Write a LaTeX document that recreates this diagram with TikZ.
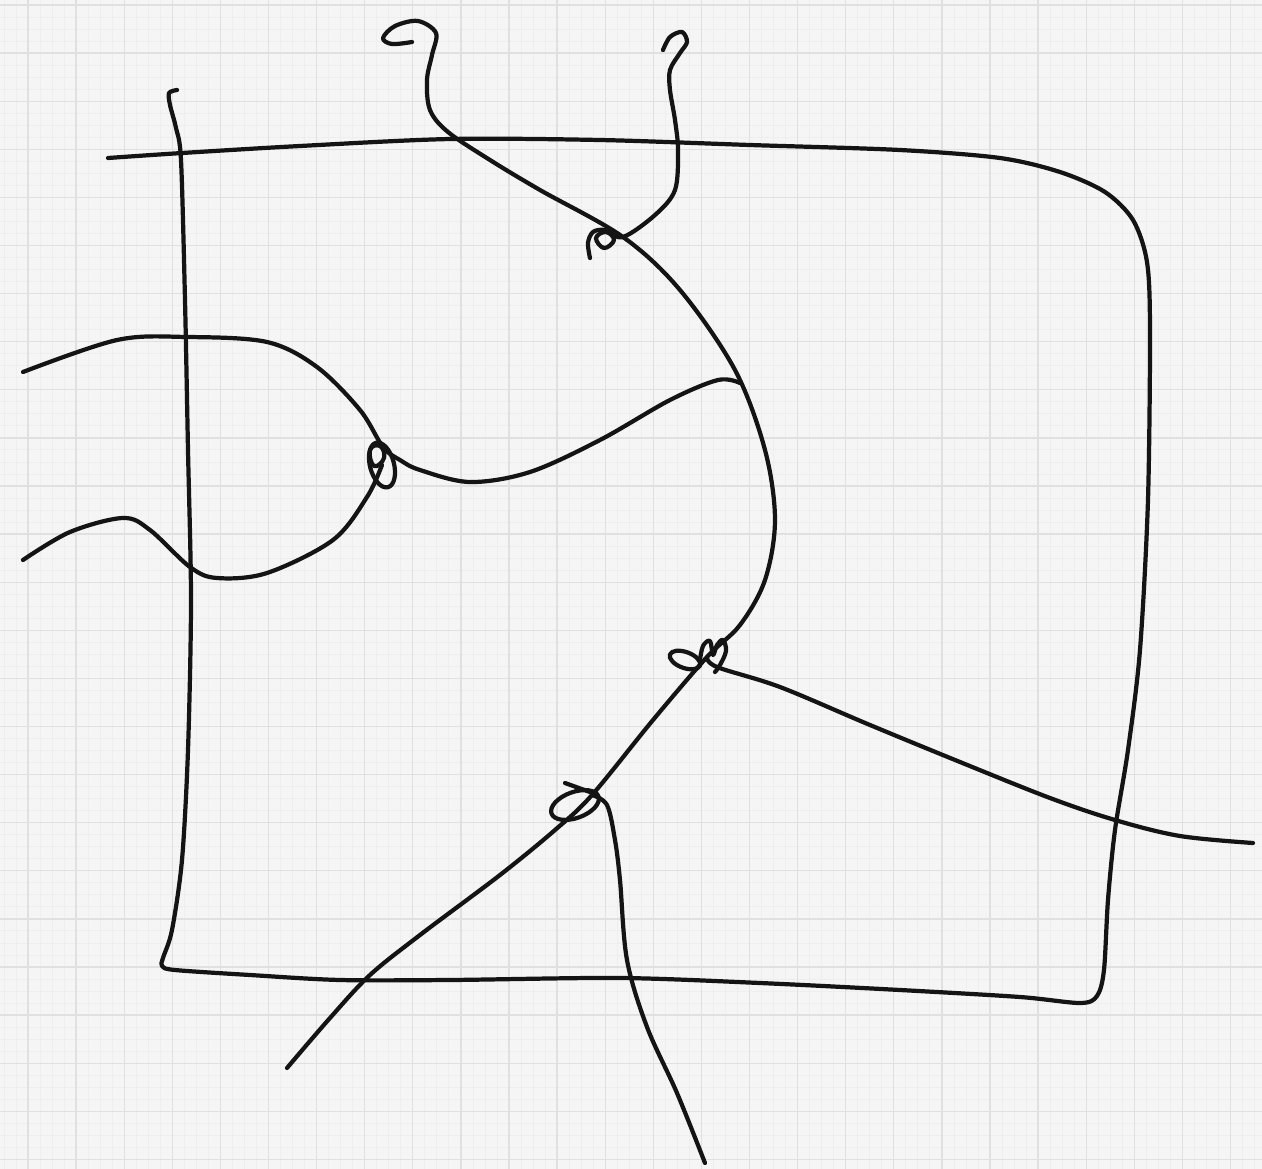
\documentclass[tikz,border=0pt]{standalone}
\usepackage{tikz}
\usetikzlibrary{calc}
\definecolor{paper}{RGB}{245,245,245}
\definecolor{gridgray}{RGB}{224,224,224}
\definecolor{gridfaint}{RGB}{238,238,238}
\definecolor{ink}{RGB}{20,20,20}

\begin{document}
\begin{tikzpicture}[x=0.01cm, y=-0.01cm,
        strand/.style={ink, line width=1.2pt, line cap=round, line join=round},
        majorline/.style={gridgray, line width=0.35pt},
        minorline/.style={gridfaint, line width=0.25pt}]
      \useasboundingbox (0,0) rectangle (1262,1169);
      \fill[paper] (0,0) rectangle (1262,1169);

      % squared paper
      \foreach \i in {0,...,104}
        \draw[minorline] ({4+12.025*\i},0) -- ({4+12.025*\i},1169);
      \foreach \i in {0,...,97}
        \draw[minorline] (0,{5+12.025*\i}) -- (1262,{5+12.025*\i});
      \foreach \i in {0,...,26}
        \draw[majorline] ({28+48.1*\i},0) -- ({28+48.1*\i},1169);
      \foreach \i in {0,...,24}
        \draw[majorline] (0,{5+48.1*\i}) -- (1262,{5+48.1*\i});

      % knots
      \coordinate (knottop) at (623,237);
      \coordinate (knotleft) at (382,465);
      \coordinate (knotmid) at (707,657);
      \coordinate (knotlow) at (592,795);

      % frame
      \draw[strand] plot[smooth, tension=0.5] coordinates {
        (177,90) (169,93) (170,105) (176,128) (181,160) (185,300) (188,450)
        (191,600) (188,750) (182,860) (172,930) (163,958) (162,966) (175,970)
        (250,975) (340,980) (450,980) (620,978) (760,983) (900,990) (1020,997)
        (1080,1003) (1097,996) (1104,970) (1108,900) (1115,830) (1128,750)
        (1140,650) (1148,500) (1150,330) (1147,262) (1133,220) (1105,192)
        (1060,172) (1000,158) (900,150) (750,145) (600,140) (450,139)
        (300,146) (182,153) (108,158)};

      % long strand
      \draw[strand] plot[smooth, tension=0.55] coordinates {
        (412,42) (392,44) (383,38) (395,26) (418,21) (436,33) (432,55)
        (427,80) (430,110) (448,132) (490,160) (540,190) (knottop) (680,290)
        (735,370) (765,450) (775,520) (765,580) (740,625) (knotmid) (653,720)
        (knotlow) (555,830) (500,875) (420,935) (370,975) (330,1018)
        (287,1068)};

      % short hook strand
      \draw[strand] plot[smooth, tension=0.55] coordinates {
        (663,50) (670,37) (682,32) (687,42) (680,53) (670,70) (670,90)
        (675,120) (678,150) (675,190) (655,215) (knottop) (605,230) (593,232)
        (588,243) (590,258)};
      \draw[strand] plot[smooth cycle, tension=0.7] coordinates {
        (596,238) (606,232) (614,240) (604,248)};

      % upper left strand
      \draw[strand] plot[smooth, tension=0.55] coordinates {
        (23,372) (117,340) (187,337) (267,342) (317,367) (360,410) (383,447)
        (400,460) (420,470) (470,482) (530,472) (600,440) (670,400) (718,380)
        (740,383)};

      % lower left strand
      \draw[strand] plot[smooth, tension=0.55] coordinates {
        (23,560) (70,532) (123,518) (150,530) (190,567) (217,578) (267,573)
        (333,540) (367,497) (knotleft)};
      \draw[strand] (knotleft) ellipse[x radius=12, y radius=23, rotate=15];
      \draw[strand] plot[smooth cycle, tension=0.8] coordinates {
        (370,450) (380,446) (384,458) (374,466)};

      % right strand
      \draw[strand] plot[smooth, tension=0.55] coordinates {
        (knotmid) (717,667) (780,687) (870,725) (960,762) (1050,798)
        (1115,820) (1180,836) (1253,843)};
      \draw[strand] (685,660) ellipse[x radius=16, y radius=8, rotate=-20];
      \draw[strand] plot[smooth, tension=0.6] coordinates {
        (700,660) (703,646) (710,641) (713,655) (717,645) (723,640) (726,651)
        (720,665) (715,672)};

      % bottom strand
      \draw[strand] plot[smooth, tension=0.55] coordinates {
        (knotlow) (607,805) (615,840) (620,880) (627,960) (647,1027)
        (677,1093) (705,1163)};
      \draw[strand] (575,805) ellipse[x radius=25, y radius=13, rotate=20];
      \draw[strand] (565,783) -- (590,792);
    \end{tikzpicture}
\end{document}
